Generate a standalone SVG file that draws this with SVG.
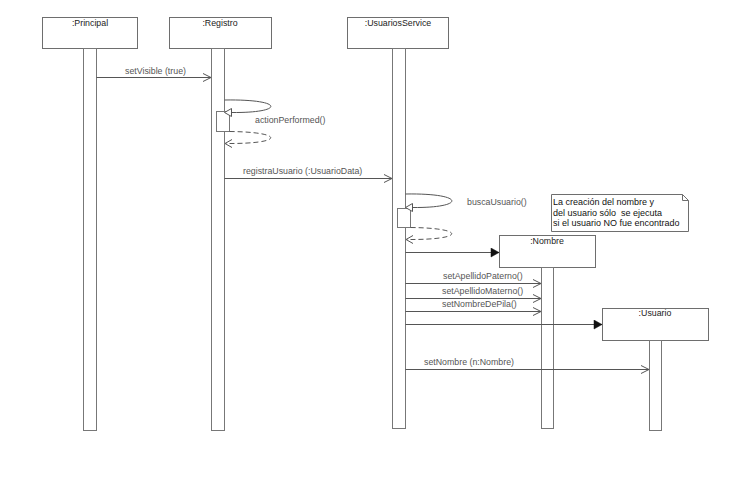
<svg xmlns="http://www.w3.org/2000/svg" width="749" height="497" viewBox="0 0 749 497">
<defs>
<style>
.box{fill:#fff;stroke:#6e6e6e;stroke-width:1}
.bar{fill:#fff;stroke:#777;stroke-width:1}
.title{font-family:"Liberation Sans",Arial,sans-serif;font-size:8.8px;fill:#222;text-anchor:middle}
.lbl{font-family:"Liberation Sans",Arial,sans-serif;font-size:8.8px;fill:#555}
.note{font-family:"Liberation Sans",Arial,sans-serif;font-size:9px;fill:#111;white-space:pre}
.msg{fill:none;stroke:#555;stroke-width:1}
.dash{fill:none;stroke:#555;stroke-width:1;stroke-dasharray:5,3}
</style>
<marker id="open" markerWidth="10" markerHeight="10" refX="9" refY="5" orient="auto" markerUnits="userSpaceOnUse">
<polyline points="1,1 9,5 1,9" fill="none" stroke="#555" stroke-width="1"/>
</marker>
<marker id="filled" markerWidth="10" markerHeight="10" refX="9" refY="5" orient="auto" markerUnits="userSpaceOnUse">
<polygon points="1,0.5 9,5 1,9.5" fill="#111" stroke="#111" stroke-width="0.5"/>
</marker>
</defs>
<rect width="749" height="497" fill="#fff"/>

<g id="principal">
<rect class="box" x="42.5" y="17.5" width="95" height="31"/>
<text class="title" x="90" y="26">:Principal</text>
<rect class="bar" x="83.5" y="48.5" width="13" height="382"/>
</g>
<g id="registro">
<rect class="box" x="169.5" y="17.5" width="102" height="31"/>
<text class="title" x="220" y="26">:Registro</text>
<rect class="bar" x="211.5" y="48.5" width="13" height="382"/>
<rect class="bar" x="216.5" y="111.5" width="13" height="20"/>
</g>
<g id="usuariosService">
<rect class="box" x="347.5" y="17.5" width="101" height="31"/>
<text class="title" x="398" y="26">:UsuariosService</text>
<rect class="bar" x="392.5" y="48.5" width="13" height="380"/>
<rect class="bar" x="397.5" y="208.5" width="13" height="19"/>
</g>
<g id="nombre">
<rect class="box" x="499.5" y="235.5" width="96" height="32"/>
<text class="title" x="547" y="244">:Nombre</text>
<rect class="bar" x="541.5" y="267.5" width="12" height="161"/>
</g>
<g id="usuario">
<rect class="box" x="602.5" y="308.5" width="106" height="32"/>
<text class="title" x="655" y="316">:Usuario</text>
<rect class="bar" x="649.5" y="340.5" width="12" height="90"/>
</g>
<g id="nota">
<polygon class="box" points="551.5,194.5 682.5,194.5 688.5,200.5 688.5,231.5 551.5,231.5"/>
<polyline points="682.5,194.5 682.5,200.5 688.5,200.5" fill="none" stroke="#6e6e6e"/>
<text class="note" x="553" y="205">La creación del nombre y</text>
<text class="note" x="553" y="215.5" xml:space="preserve">del usuario sólo  se ejecuta</text>
<text class="note" x="553" y="226">si el usuario NO fue encontrado</text>
</g>

<g id="connectors">
<line class="msg" x1="96.5" y1="77.5" x2="211" y2="77.5" marker-end="url(#open)"/>
<text class="lbl" x="125" y="74">setVisible (true)</text>

<path class="msg" d="M224.5,100 C285,99 285,113 232,112.5"/>
<polygon points="224.5,112.5 231.5,108.5 231.5,116.5" fill="#fff" stroke="#555"/>
<text class="lbl" x="255" y="123">actionPerformed()</text>
<path class="dash" d="M229.5,131.5 C285,132 285,144 226,143.5"/>
<polyline points="232,139.5 225,143.5 232,147.5" fill="none" stroke="#555"/>

<line class="msg" x1="224.5" y1="178.5" x2="392" y2="178.5" marker-end="url(#open)"/>
<text class="lbl" x="243" y="174">registraUsuario (:UsuarioData)</text>

<path class="msg" d="M405.5,194 C466,193 466,208 413,207.5"/>
<polygon points="405.5,207.5 412.5,203.5 412.5,211.5" fill="#fff" stroke="#555"/>
<text class="lbl" x="467" y="205">buscaUsuario()</text>
<path class="dash" d="M410.5,227.5 C466,228 466,240 407,239.5"/>
<polyline points="413,235.5 406,239.5 413,243.5" fill="none" stroke="#555"/>

<line class="msg" x1="405.5" y1="252.5" x2="499" y2="252.5" marker-end="url(#filled)"/>

<line class="msg" x1="405.5" y1="283.5" x2="541" y2="283.5" marker-end="url(#open)"/>
<text class="lbl" x="443" y="279">setApellidoPaterno()</text>
<line class="msg" x1="405.5" y1="298.5" x2="541" y2="298.5" marker-end="url(#open)"/>
<text class="lbl" x="442" y="294">setApellidoMaterno()</text>
<line class="msg" x1="405.5" y1="311.5" x2="541" y2="311.5" marker-end="url(#open)"/>
<text class="lbl" x="442" y="307">setNombreDePila()</text>

<line class="msg" x1="405.5" y1="324.5" x2="602" y2="324.5" marker-end="url(#filled)"/>

<line class="msg" x1="405.5" y1="369.5" x2="649" y2="369.5" marker-end="url(#open)"/>
<text class="lbl" x="424" y="365">setNombre (n:Nombre)</text>
</g>
</svg>
